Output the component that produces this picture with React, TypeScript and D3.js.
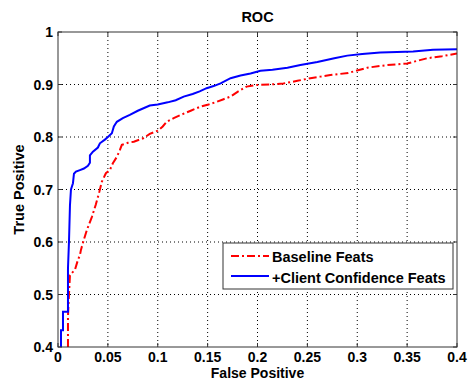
import * as d3 from "d3";

const W = 472;
const H = 383;
const margin = {top: 32, right: 15, bottom: 36, left: 58};

// Client Confidence (blue)
const blueFpr = [0.003, 0.003, 0.005, 0.005, 0.010, 0.010, 0.011, 0.012, 0.013, 0.015, 0.016, 0.018, 0.022, 0.026, 0.030, 0.032, 0.032, 0.035, 0.040, 0.042, 0.047, 0.050, 0.054, 0.056, 0.059, 0.065, 0.072, 0.080, 0.092, 0.100, 0.110, 0.118, 0.126, 0.135, 0.142, 0.149, 0.156, 0.163, 0.173, 0.183, 0.193, 0.203, 0.215, 0.230, 0.243, 0.260, 0.277, 0.290, 0.305, 0.323, 0.340, 0.356, 0.376, 0.400];
const blueTpr = [0.400, 0.432, 0.432, 0.467, 0.467, 0.550, 0.600, 0.670, 0.700, 0.712, 0.730, 0.734, 0.737, 0.740, 0.745, 0.751, 0.765, 0.772, 0.780, 0.788, 0.795, 0.800, 0.807, 0.820, 0.829, 0.836, 0.842, 0.850, 0.860, 0.862, 0.866, 0.870, 0.877, 0.882, 0.887, 0.893, 0.897, 0.902, 0.912, 0.917, 0.921, 0.926, 0.928, 0.932, 0.937, 0.943, 0.950, 0.955, 0.958, 0.961, 0.962, 0.963, 0.966, 0.967];

// Baseline (red)
const redFpr = [0.010, 0.010, 0.011, 0.012, 0.017, 0.020, 0.022, 0.023, 0.026, 0.029, 0.034, 0.038, 0.0415, 0.044, 0.048, 0.052, 0.055, 0.059, 0.062, 0.064, 0.070, 0.076, 0.086, 0.092, 0.100, 0.105, 0.109, 0.116, 0.123, 0.133, 0.143, 0.151, 0.159, 0.166, 0.173, 0.180, 0.189, 0.199, 0.212, 0.226, 0.240, 0.253, 0.263, 0.273, 0.291, 0.310, 0.330, 0.350, 0.370, 0.385, 0.400];
const redTpr = [0.400, 0.458, 0.500, 0.537, 0.547, 0.566, 0.575, 0.585, 0.605, 0.623, 0.648, 0.672, 0.696, 0.715, 0.731, 0.737, 0.750, 0.762, 0.775, 0.785, 0.789, 0.791, 0.798, 0.806, 0.812, 0.820, 0.829, 0.836, 0.842, 0.850, 0.858, 0.862, 0.867, 0.872, 0.877, 0.886, 0.896, 0.899, 0.900, 0.902, 0.907, 0.912, 0.915, 0.918, 0.922, 0.932, 0.937, 0.940, 0.950, 0.954, 0.959];

const xTicks = [0, 0.05, 0.1, 0.15, 0.2, 0.25, 0.3, 0.35, 0.4];
const yTicks = [0.4, 0.5, 0.6, 0.7, 0.8, 0.9, 1];
const legendLabels = ["Baseline Feats", "+Client Confidence Feats"];

const font = "'Liberation Sans', Arial, sans-serif";

const App = () => {
    const x = d3.scaleLinear().domain([0, 0.4]).range([margin.left, W - margin.right]);
    const y = d3.scaleLinear().domain([0.4, 1]).range([H - margin.bottom, margin.top]);
    const x0 = x(0), x1 = x(0.4), y0 = y(0.4), y1 = y(1);

    const line = d3.line<number>()
    const bluePath = line(blueFpr.map((f, i) => [x(f), y(blueTpr[i])]) as any)
    const redPath = line(redFpr.map((f, i) => [x(f), y(redTpr[i])]) as any)

    const fmt = (v: number) => String(v)

    return <svg width={W} height={H} style={{position: "fixed", left: 0, top: 0, background: "#fff"}}
                fontFamily={font}>
        <rect x={0} y={0} width={W} height={H} fill="#fff"/>
        <defs>
            <clipPath id="plot">
                <rect x={x0} y={y1} width={x1 - x0} height={y0 - y1}/>
            </clipPath>
        </defs>
        {/* grid */}
        {xTicks.slice(1, -1).map(t => <line key={"gx" + t} x1={x(t)} x2={x(t)} y1={y1} y2={y0}
                                            stroke="#000" strokeWidth={1} strokeDasharray="1,3"/>)}
        {yTicks.slice(1, -1).map(t => <line key={"gy" + t} x1={x0} x2={x1} y1={y(t)} y2={y(t)}
                                            stroke="#000" strokeWidth={1} strokeDasharray="1,3"/>)}
        {/* tick marks */}
        {xTicks.map(t => <g key={"tx" + t} stroke="#333">
            <line x1={x(t)} x2={x(t)} y1={y0} y2={y0 - 4}/>
            <line x1={x(t)} x2={x(t)} y1={y1} y2={y1 + 4}/>
        </g>)}
        {yTicks.map(t => <g key={"ty" + t} stroke="#333">
            <line x1={x0} x2={x0 + 4} y1={y(t)} y2={y(t)}/>
            <line x1={x1} x2={x1 - 4} y1={y(t)} y2={y(t)}/>
        </g>)}
        {/* curves */}
        <g clipPath="url(#plot)">
            <path d={redPath || ""} fill="none" stroke="#ff0000" strokeWidth={2} strokeDasharray="8,3,2,3"/>
            <path d={bluePath || ""} fill="none" stroke="#0000ff" strokeWidth={2}/>
        </g>
        {/* box */}
        <rect x={x0} y={y1} width={x1 - x0} height={y0 - y1} fill="none" stroke="#333" strokeWidth={1}/>
        {/* tick labels */}
        {xTicks.map(t => <text key={"lx" + t} x={x(t)} y={y0 + 15} textAnchor="middle" fontSize={14}
                               fontWeight="bold" fill="#000">{fmt(t)}</text>)}
        {yTicks.map(t => <text key={"ly" + t} x={x0 - 5} y={y(t) + 5} textAnchor="end" fontSize={14}
                               fontWeight="bold" fill="#000">{fmt(t)}</text>)}
        {/* titles */}
        <text x={(x0 + x1) / 2} y={22} textAnchor="middle" fontSize={14.5} fontWeight="bold">ROC</text>
        <text x={(x0 + x1) / 2} y={378} textAnchor="middle" fontSize={14} fontWeight="bold">False Positive</text>
        <text transform={`translate(24,${(y0 + y1) / 2}) rotate(-90)`} textAnchor="middle" fontSize={14.5}
              fontWeight="bold">True Positive</text>
        {/* legend */}
        <g>
            <rect x={223} y={243} width={230} height={46} fill="#fff" stroke="#333"/>
            <line x1={231} x2={269} y1={256} y2={256} stroke="#ff0000" strokeWidth={2} strokeDasharray="8,3,2,3"/>
            <line x1={231} x2={269} y1={276} y2={276} stroke="#0000ff" strokeWidth={2}/>
            <text x={272} y={262} fontSize={14.5} fontWeight="bold">{legendLabels[0]}</text>
            <text x={272} y={283} fontSize={14.5} fontWeight="bold">{legendLabels[1]}</text>
        </g>
    </svg>
}

export default App
